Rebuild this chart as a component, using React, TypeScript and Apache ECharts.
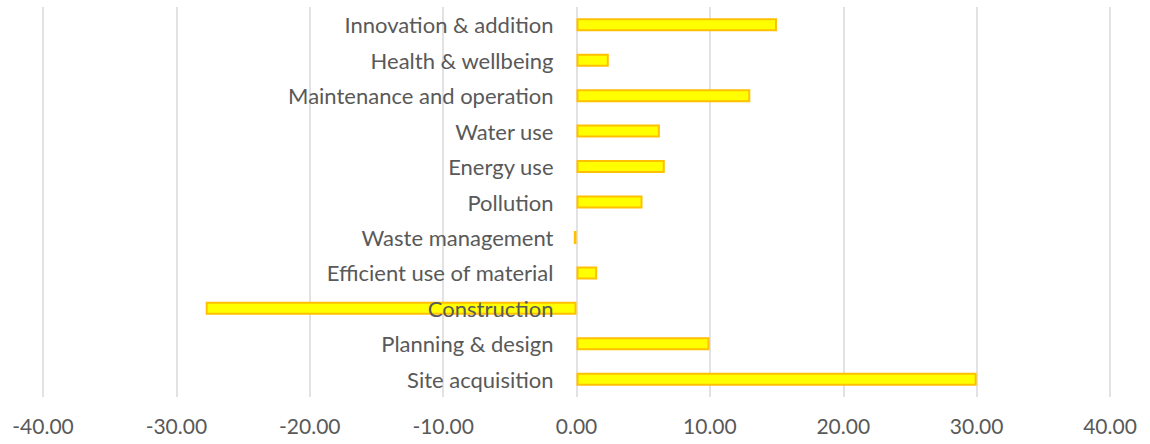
import React, { useEffect, useRef } from "react";
import * as echarts from "echarts";

const categories = [
  "Site acquisition",
  "Planning & design",
  "Construction",
  "Efficient use of material",
  "Waste management",
  "Pollution",
  "Energy use",
  "Water use",
  "Maintenance and operation",
  "Health & wellbeing",
  "Innovation & addition",
];
const values = [30.0, 9.97, -27.8, 1.55, -0.2, 4.95, 6.62, 6.25, 13.03, 2.42, 15.03];
const xMin = -40;
const xMax = 40;
const xInterval = 10;

export default function App() {
  const ref = useRef<HTMLDivElement>(null);
  useEffect(() => {
    if (!ref.current) return;
    const chart = echarts.init(ref.current, null, { renderer: "svg" });
    const font = "Lato";
    const gridLeft = 43;
    const gridRight = 40;
    const plotW = 1150 - gridLeft - gridRight;
    const zeroOffset = (plotW * (0 - xMin)) / (xMax - xMin);
    chart.setOption({
      animation: false,
      grid: {
        left: gridLeft,
        right: gridRight,
        top: 7,
        bottom: 47,
        containLabel: false,
        outerBoundsMode: "none",
      },
      xAxis: {
        type: "value",
        min: xMin,
        max: xMax,
        interval: xInterval,
        axisLine: { show: false },
        axisTick: { show: false },
        splitLine: { show: true, lineStyle: { color: "#d9d9d9", width: 1.5 } },
        axisLabel: {
          color: "#595959",
          fontFamily: font,
          fontSize: 21,
          margin: 18,
          formatter: (v: number) => v.toFixed(2),
        },
      },
      yAxis: {
        type: "category",
        data: categories,
        z: 10,
        offset: -zeroOffset,
        axisLine: { show: false },
        axisTick: { show: false },
        splitLine: { show: false },
        axisLabel: {
          color: "#595959",
          fontFamily: font,
          fontSize: 22,
          margin: 23,
        },
      },
      series: [
        {
          type: "bar",
          data: values,
          barWidth: 13,
          itemStyle: { color: "#FFFF00", borderColor: "#FFC000", borderWidth: 2 },
        },
      ],
    });
    return () => chart.dispose();
  }, []);
  return (
    <div
      ref={ref}
      style={{ position: "absolute", left: 0, top: 0, width: 1150, height: 444 }}
    />
  );
}
